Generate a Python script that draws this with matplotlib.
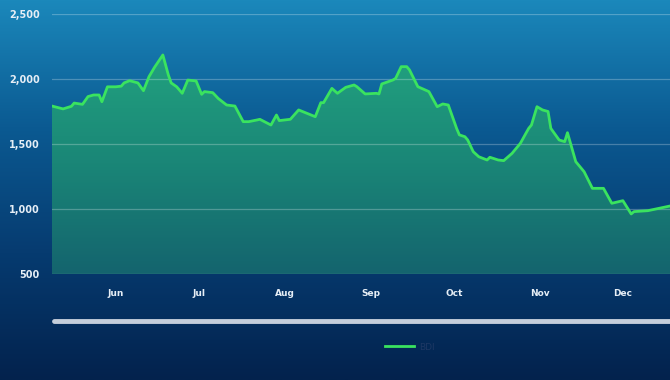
import numpy as np
import pandas as pd
import matplotlib
matplotlib.use("Agg")
import matplotlib.pyplot as plt
from matplotlib.colors import LinearSegmentedColormap

# BDI readings (year is arbitrary, only months are shown)
dates = ["05-09", "05-13", "05-16", "05-17", "05-20", "05-22", "05-24", "05-26",
         "05-27", "05-29", "06-01", "06-03", "06-04", "06-06", "06-09", "06-11",
         "06-13", "06-15", "06-18", "06-20", "06-21", "06-23", "06-25", "06-27",
         "06-30", "07-02", "07-03", "07-06", "07-08", "07-11", "07-14", "07-17",
         "07-19", "07-22", "07-23", "07-27", "07-29", "07-30", "08-03", "08-06",
         "08-12", "08-14", "08-15", "08-18", "08-20", "08-23", "08-26", "08-27",
         "08-30", "09-03", "09-04", "09-05", "09-09", "09-10", "09-12", "09-14",
         "09-15", "09-18", "09-22", "09-25", "09-27", "09-29", "10-02", "10-03",
         "10-05", "10-06", "10-08", "10-10", "10-13", "10-14", "10-17", "10-19",
         "10-22", "10-25", "10-27", "10-28", "10-29", "10-31", "11-02", "11-04",
         "11-05", "11-08", "11-10", "11-11", "11-14", "11-17", "11-20", "11-24",
         "11-27", "12-01", "12-04", "12-05", "12-10", "12-18"]
bdi = [1792, 1770, 1790, 1815, 1805, 1865, 1877, 1877,
       1825, 1940, 1940, 1945, 1970, 1987, 1970, 1910,
       2018, 2090, 2185, 2030, 1970, 1940, 1890, 1992,
       1985, 1882, 1903, 1895, 1850, 1800, 1792, 1672,
       1672, 1685, 1690, 1646, 1723, 1680, 1690, 1762,
       1710, 1818, 1818, 1928, 1890, 1936, 1954, 1941,
       1885, 1890, 1885, 1962, 1992, 2005, 2095, 2095,
       2070, 1941, 1903, 1787, 1808, 1800, 1620, 1570,
       1556, 1531, 1441, 1402, 1377, 1398, 1377, 1372,
       1428, 1505, 1582, 1620, 1646, 1787, 1762, 1750,
       1620, 1531, 1518, 1587, 1364, 1287, 1159, 1159,
       1044, 1064, 962, 980, 987, 1023]
y_ticks = [500, 1000, 1500, 2000, 2500]
month_labels = ["Jun", "Jul", "Aug", "Sep", "Oct", "Nov", "Dec"]

x = pd.to_datetime(["2019-" + d for d in dates])
y = np.array(bdi)

fig = plt.figure(figsize=(6.7, 3.8), dpi=100)

# background gradient
bg = fig.add_axes([0, 0, 1, 1], zorder=0)
bg_cmap = LinearSegmentedColormap.from_list("bg", ["#1b88bb", "#0b5a92", "#063b70", "#03224d"])
bg.imshow(np.linspace(0, 1, 256).reshape(-1, 1), aspect="auto", cmap=bg_cmap,
          extent=[0, 1, 0, 1])
bg.axis("off")

ax = fig.add_axes([52 / 670, 1 - 274 / 380, 1 - 52 / 670, 260 / 380], zorder=1)
ax.patch.set_alpha(0)

ax.set_xlim(x[0], pd.Timestamp("2019-12-18"))
ax.set_ylim(500, 2500)
xl = ax.get_xlim()

# gradient area fill clipped to the series polygon
poly = ax.fill_between(x, y, 500, color="none")
fill_cmap = LinearSegmentedColormap.from_list("fill", ["#14646e", "#1a8677", "#22a27f"])
img = ax.imshow(np.linspace(0, 1, 256).reshape(-1, 1), aspect="auto", cmap=fill_cmap,
                origin="lower", extent=[xl[0], xl[1], 500, 2200], zorder=1)
img.set_clip_path(poly.get_paths()[0], transform=ax.transData)
ax.set_xlim(xl)
ax.set_ylim(500, 2500)

ax.plot(x, y, color="#3ae35f", lw=2.0, zorder=3, solid_joinstyle="round", label="BDI")

ax.set_yticks(y_ticks)
ax.set_yticklabels([f"{v:,}" for v in y_ticks])
ax.grid(axis="y", color="white", alpha=0.25, lw=0.9, zorder=2)
ax.set_axisbelow(False)

month_ticks = pd.date_range("2019-06-01", periods=7, freq="MS")
ax.set_xticks(month_ticks)
ax.set_xticklabels(month_labels)

ax.tick_params(length=0, colors="#e6eef6", labelsize=6.5)
ax.tick_params(axis="y", pad=9, labelsize=7)
ax.tick_params(axis="x", pad=11)
for lab in ax.get_xticklabels() + ax.get_yticklabels():
    lab.set_fontweight("bold")
for s in ax.spines.values():
    s.set_visible(False)

# navigator bar below the axis
fig.add_artist(plt.Line2D([54 / 670, 1.0], [1 - 321 / 380] * 2, color="#c5cedb",
                          lw=3.5, solid_capstyle="round", transform=fig.transFigure))

leg = fig.legend(handles=ax.get_lines(), loc="center", bbox_to_anchor=(410 / 670, 1 - 347 / 380),
                 frameon=False, fontsize=6.5, handlelength=3.2, handletextpad=0.5)
for t in leg.get_texts():
    t.set_color("#1d3864")

fig.savefig("out.png", dpi=100)
